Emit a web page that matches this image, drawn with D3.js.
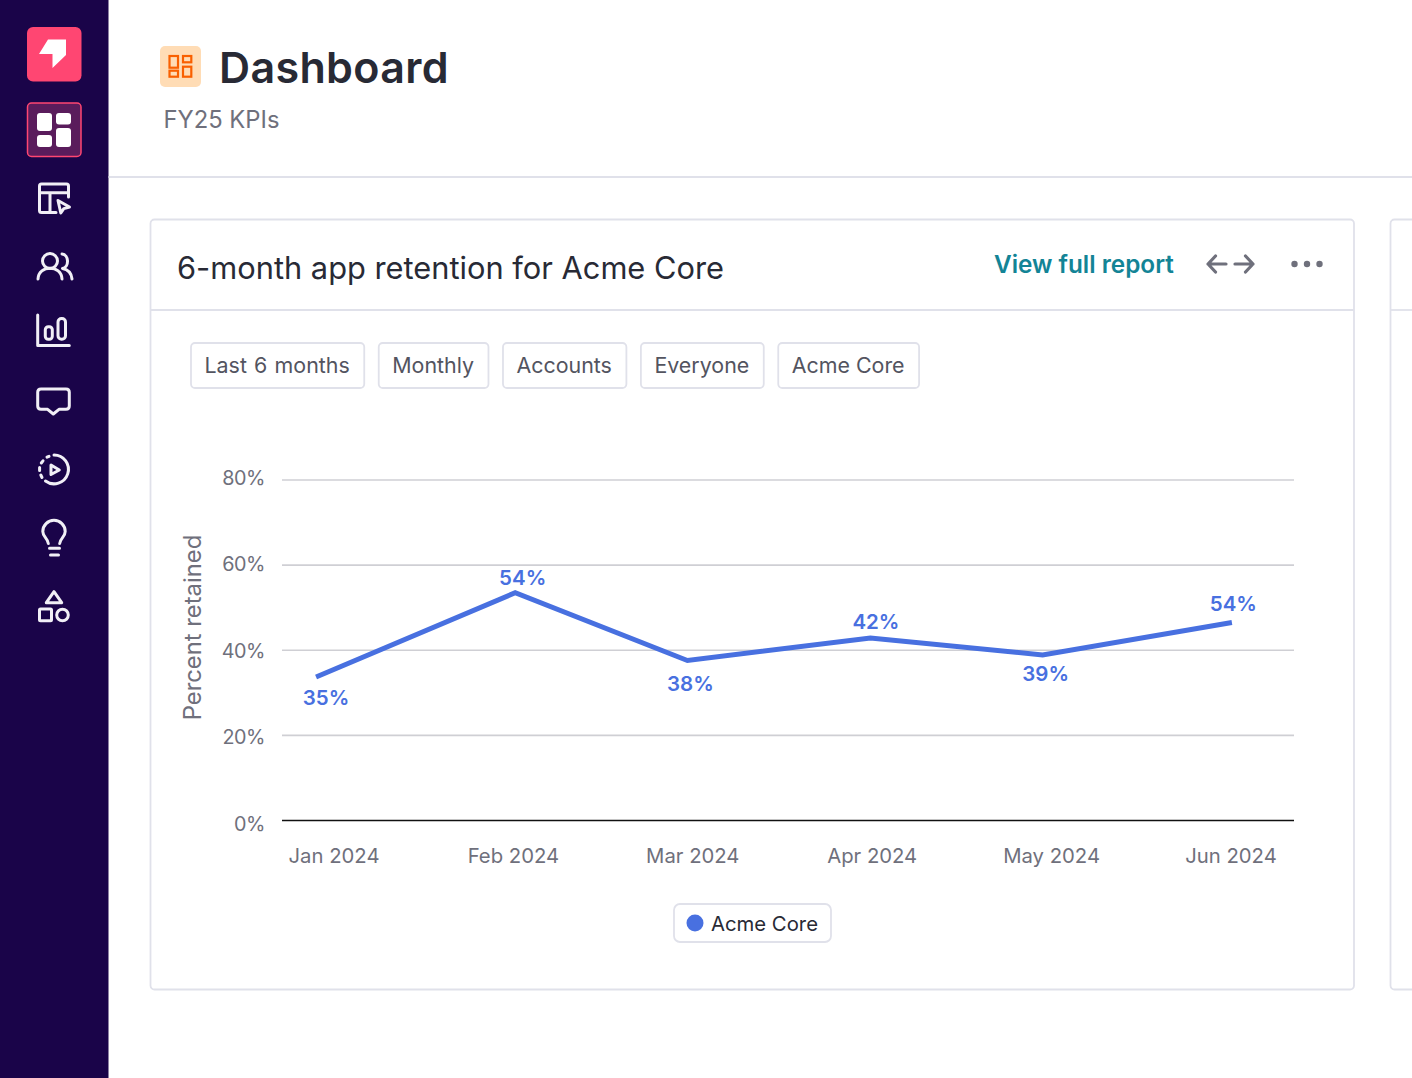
<!DOCTYPE html>
<html>
<head>
<meta charset="utf-8">
<script src="https://cdn.jsdelivr.net/npm/d3@7"></script>
<style>
  html, body { margin: 0; padding: 0; background: #fff; overflow: hidden; }
  svg { display: block; font-family: Inter, "Noto Sans", sans-serif; }
</style>
</head>
<body>
<svg id="page" width="1412" height="1078"></svg>
<script>
// Chart values
const months = ['Jan 2024', 'Feb 2024', 'Mar 2024', 'Apr 2024', 'May 2024', 'Jun 2024'];
const monthPos = [-0.1, 1.01, 1.97, 2.99, 3.95, 5.005];
const retained = [33.7, 53.5, 37.6, 42.9, 38.9, 46.5];
const pointLabels = ['35%', '54%', '38%', '42%', '39%', '54%'];
const yTicks = [0, 20, 40, 60, 80];
const chips = ['Last 6 months', 'Monthly', 'Accounts', 'Everyone', 'Acme Core'];
const seriesName = 'Acme Core';

const BLUE = '#4870e0';
const BORDER = '#e0e1ea';
const GREY = '#6f707c';
const INK = '#282a35';

const svg = d3.select('#page');

// Sidebar
svg.append('rect').attr('x', 0).attr('y', 0).attr('width', 108.5).attr('height', 1078).attr('fill', '#1a0449');

const side = svg.append('g').attr('fill', 'none').attr('stroke', '#f1eff6')
    .attr('stroke-width', 3).attr('stroke-linecap', 'round').attr('stroke-linejoin', 'round');

svg.append('rect').attr('x', 27).attr('y', 27).attr('width', 54.5).attr('height', 54.5).attr('rx', 6).attr('fill', '#ff4672');
svg.append('path').attr('d', 'M48 39.5H66V55L52.5 68V54H39Z').attr('fill', '#fff');

svg.append('rect').attr('x', 27.5).attr('y', 103).attr('width', 53.5).attr('height', 53.5).attr('rx', 4)
    .attr('fill', '#5a1c5c').attr('stroke', '#ff4672').attr('stroke-width', 1.5);
[[37, 113, 15, 18], [56, 113, 15, 11.5], [37, 135, 15, 12], [56, 128, 15, 19]].forEach(r => {
    svg.append('rect').attr('x', r[0]).attr('y', r[1]).attr('width', r[2]).attr('height', r[3]).attr('rx', 3).attr('fill', '#fff');
});

// table + cursor
side.append('path').attr('d', 'M68.5 197V186Q68.5 184 66.5 184H41.5Q39.5 184 39.5 186V210.5Q39.5 212.5 41.5 212.5H56M39.5 192.7H68.5M50 192.7V212.5');
side.append('path').attr('d', 'M58 200.5L69.5 207L63.8 208.6L60.8 213Z');
// people
side.append('circle').attr('cx', 50).attr('cy', 261).attr('r', 7.5);
side.append('path').attr('d', 'M38 279C38.5 264.5 61.5 264.5 62 279');
side.append('path').attr('d', 'M62 254C69 254.5 69.5 267 62.5 268.5C68 269.5 71.5 273.5 72 279');
// bars
side.append('path').attr('d', 'M37.7 315V345.5H69.3');
side.append('rect').attr('x', 45.3).attr('y', 326.7).attr('width', 7).attr('height', 12.6).attr('rx', 3);
side.append('rect').attr('x', 58).attr('y', 318.5).attr('width', 7.5).attr('height', 20.8).attr('rx', 3.5);
// message
side.append('path').attr('d', 'M41 389H66Q69.3 389 69.3 392.3V406Q69.3 409.3 66 409.3H59L53.3 414L47.6 409.3H41Q37.7 409.3 37.7 406V392.3Q37.7 389 41 389Z');
// dashed play
side.append('path').attr('d', 'M54 455A14.4 14.4 0 1 1 45.5 481');
side.append('path').attr('d', 'M42 477.5L40.8 475M39.6 470.5V467.5M41.3 463L43 460.8M47 457.2L49 456.3');
side.append('path').attr('d', 'M51 465L59.3 470L51 474.5Z');
// bulb
side.append('path').attr('d', 'M48.3 543.5C48 538.5 42.8 537 42.8 531.5A11.2 11.2 0 0 1 65.2 531.5C65.2 537 60 538.5 59.7 543.5');
side.append('path').attr('d', 'M49.5 548.3H59.5M50.5 555H58.5');
// shapes
side.append('path').attr('d', 'M54 591.7L61.7 602.7H46.3Z');
side.append('rect').attr('x', 39.5).attr('y', 609).attr('width', 12).attr('height', 11.7).attr('rx', 1);
side.append('circle').attr('cx', 62.5).attr('cy', 615).attr('r', 5.8);

// Page header
svg.append('rect').attr('x', 160).attr('y', 46).attr('width', 41).attr('height', 41).attr('rx', 5).attr('fill', '#ffdcb5');
[[169.5, 56, 8.5, 11.7], [169.5, 70.7, 8.5, 6], [183, 56, 8.3, 6.3], [183, 66.7, 8.3, 10]].forEach(r => {
    svg.append('rect').attr('x', r[0]).attr('y', r[1]).attr('width', r[2]).attr('height', r[3])
        .attr('fill', 'none').attr('stroke', '#f96000').attr('stroke-width', 2.2);
});
svg.append('text').attr('x', 219).attr('y', 83).attr('font-size', 43).attr('font-weight', 600)
    .attr('letter-spacing', 0.35).attr('fill', INK).text('Dashboard');
svg.append('text').attr('x', 163.5).attr('y', 128).attr('font-size', 23.8).attr('fill', GREY).text('FY25 KPIs');
svg.append('line').attr('x1', 108.5).attr('x2', 1412).attr('y1', 177).attr('y2', 177).attr('stroke', BORDER).attr('stroke-width', 2);

// Cards
svg.append('rect').attr('x', 150.5).attr('y', 219.5).attr('width', 1203.5).attr('height', 770).attr('rx', 4)
    .attr('fill', '#fff').attr('stroke', BORDER).attr('stroke-width', 1.8);
svg.append('line').attr('x1', 150.5).attr('x2', 1354).attr('y1', 310).attr('y2', 310).attr('stroke', BORDER).attr('stroke-width', 1.8);
svg.append('rect').attr('x', 1390.5).attr('y', 219.5).attr('width', 60).attr('height', 770).attr('rx', 4)
    .attr('fill', '#fff').attr('stroke', BORDER).attr('stroke-width', 1.8);
svg.append('line').attr('x1', 1390.5).attr('x2', 1412).attr('y1', 310).attr('y2', 310).attr('stroke', BORDER).attr('stroke-width', 1.8);

svg.append('text').attr('x', 177).attr('y', 279).attr('font-size', 30.8).attr('fill', INK).text('6-month app retention for Acme Core');
svg.append('text').attr('x', 994).attr('y', 273).attr('font-size', 24.3).attr('font-weight', 600).attr('fill', '#138496').text('View full report');

const act = svg.append('g').attr('fill', 'none').attr('stroke', GREY).attr('stroke-width', 3.2)
    .attr('stroke-linecap', 'round').attr('stroke-linejoin', 'round');
act.append('path').attr('d', 'M1226 264H1208M1215.5 256L1208 264L1215.5 272');
act.append('path').attr('d', 'M1235 264H1253M1245.5 256L1253 264L1245.5 272');
[1294.5, 1307, 1319.5].forEach(cx => {
    svg.append('circle').attr('cx', cx).attr('cy', 264).attr('r', 3.2).attr('fill', GREY);
});

// Filter chips, laid out from the measured text
let chipX = 191;
chips.forEach(name => {
    const g = svg.append('g');
    const box = g.append('rect').attr('y', 343).attr('height', 45).attr('rx', 4)
        .attr('fill', '#fff').attr('stroke', BORDER).attr('stroke-width', 1.8);
    const t = g.append('text').attr('x', chipX + 13.5).attr('y', 373).attr('font-size', 21.4)
        .attr('word-spacing', name === chips[0] ? 1.2 : 0).attr('fill', '#53545f').text(name);
    const w = t.node().getComputedTextLength();
    box.attr('x', chipX).attr('width', w + 28);
    chipX += w + 28 + 14.5;
});

// Chart
const y = d3.scaleLinear().domain([0, 80]).range([820.5, 480]);
const yLabel = d3.scaleLinear().domain([0, 80]).range([824, 478]);
const x = d3.scaleLinear().domain([0, 5]).range([334, 1231]);

const grid = svg.append('g');
grid.selectAll('line').data(yTicks).enter().append('line')
    .attr('x1', 282).attr('x2', 1294)
    .attr('y1', d => y(d)).attr('y2', d => y(d))
    .attr('stroke', d => d === 0 ? '#111' : '#cfcfd4')
    .attr('stroke-width', 1.6);

svg.append('g').selectAll('text').data(yTicks).enter().append('text')
    .attr('x', 265).attr('y', d => yLabel(d)).attr('dy', '.35em')
    .attr('text-anchor', 'end').attr('font-size', 19.8).attr('letter-spacing', -0.5).attr('fill', GREY)
    .text(d => d + '%');

svg.append('g').selectAll('text').data(months).enter().append('text')
    .attr('x', (d, i) => x(i)).attr('y', 862.5)
    .attr('text-anchor', 'middle').attr('font-size', 20.3).attr('fill', GREY)
    .text(d => d);

svg.append('text').attr('transform', 'translate(201,627.5) rotate(-90)')
    .attr('text-anchor', 'middle').attr('font-size', 23.8).attr('fill', GREY).text('Percent retained');

const series = retained.map((v, i) => ({ v: v, pos: monthPos[i], label: pointLabels[i] }));

const line = d3.line().x(d => x(d.pos)).y(d => y(d.v));
svg.append('path').datum(series).attr('d', line)
    .attr('fill', 'none').attr('stroke', BLUE).attr('stroke-width', 5).attr('stroke-linejoin', 'miter');

// each label sits by hand around its point, as in the original
const labelNudge = [[10, 27.5], [7.5, -8], [3, 30.5], [5.5, -9], [3, 26], [1.5, -12]];
svg.append('g').selectAll('text').data(series).enter().append('text')
    .attr('x', (d, i) => x(d.pos) + labelNudge[i][0])
    .attr('y', (d, i) => y(d.v) + labelNudge[i][1])
    .attr('text-anchor', 'middle').attr('font-size', 20.5).attr('font-weight', 600).attr('fill', BLUE)
    .text(d => d.label);

// Legend
svg.append('rect').attr('x', 674).attr('y', 904).attr('width', 157).attr('height', 38).attr('rx', 6)
    .attr('fill', '#fff').attr('stroke', BORDER).attr('stroke-width', 1.8);
svg.append('circle').attr('cx', 695).attr('cy', 923).attr('r', 8.5).attr('fill', BLUE);
svg.append('text').attr('x', 711).attr('y', 931).attr('font-size', 20.3).attr('fill', INK).text(seriesName);
</script>
</body>
</html>
